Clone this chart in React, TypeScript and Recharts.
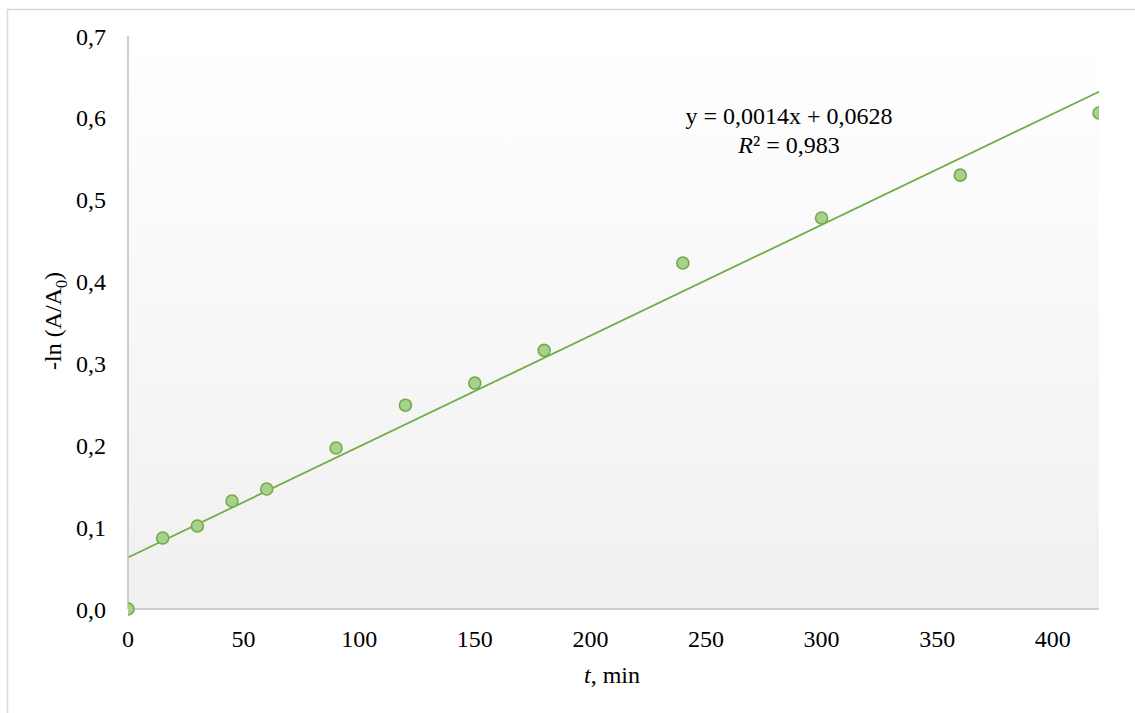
import React from 'react';
import {
  ScatterChart, Scatter, XAxis, YAxis, ReferenceLine, Customized, usePlotArea,
} from 'recharts';

const timeMin = [0, 15, 30, 45, 60, 90, 120, 150, 180, 240, 300, 360, 420];
const lnValues = [0.0, 0.0867, 0.1014, 0.132, 0.1466, 0.1967, 0.249, 0.276, 0.316, 0.4227, 0.4776, 0.530, 0.606];
const xTicks = [0, 50, 100, 150, 200, 250, 300, 350, 400];
const yTicks = [0, 0.1, 0.2, 0.3, 0.4, 0.5, 0.6, 0.7];
const equationText = 'y = 0,0014x + 0,0628';
const r2Value = '0,983';

const data = timeMin.map((t, i) => ({ t, v: lnValues[i] }));

// least-squares trendline (as in the spreadsheet's linear trendline)
const n = timeMin.length;
const mx = timeMin.reduce((a, b) => a + b, 0) / n;
const my = lnValues.reduce((a, b) => a + b, 0) / n;
let sxy = 0;
let sxx = 0;
for (let i = 0; i < n; i++) {
  sxy += (timeMin[i] - mx) * (lnValues[i] - my);
  sxx += (timeMin[i] - mx) ** 2;
}
const slope = sxy / sxx;
const intercept = my - slope * mx;
const xMin = 0;
const xMax = 420;

const FONT = '"Liberation Serif", "Times New Roman", serif';
const GREEN = '#70ad47';
const DOT_FILL = '#a9d18e';

const fmt = (v: number) => v.toFixed(1).replace('.', ',');

const Dot = (props: any) => (
  <circle cx={props.cx} cy={props.cy} r={6} fill={DOT_FILL} stroke={GREEN} strokeWidth={1.6} />
);

const Annotations = () => {
  let area: any = null;
  try {
    area = usePlotArea ? usePlotArea() : null;
  } catch (e) {
    area = null;
  }
  const pa = area || { x: 128, y: 36, width: 971, height: 573 };
  return (
    <g fontFamily={FONT} fontSize={24} fill="#000">
      <defs>
        <linearGradient id="plotBg" x1="0" y1="0" x2="0" y2="1">
          <stop offset="0%" stopColor="#ffffff" />
          <stop offset="100%" stopColor="#f0f0f0" />
        </linearGradient>
      </defs>
      <rect x={pa.x} y={pa.y} width={pa.width} height={pa.height} fill="url(#plotBg)" />
      <rect x={7.5} y={9.5} width={1200} height={800} fill="none" stroke="#d9d9d9" strokeWidth={1.5} />
      <text x={789} y={124} textAnchor="middle">{equationText}</text>
      <text x={789} y={153} textAnchor="middle">
        <tspan fontStyle="italic">R</tspan>
        <tspan>{'² = ' + r2Value}</tspan>
      </text>
      <text x={61} y={321} textAnchor="middle" transform="rotate(-90, 61, 321)">
        <tspan>-ln (A/A</tspan>
        <tspan dy={6} fontSize={16}>0</tspan>
        <tspan dy={-6}>)</tspan>
      </text>
      <text x={612} y={683} textAnchor="middle">
        <tspan fontStyle="italic">t</tspan>
        <tspan>, min</tspan>
      </text>
    </g>
  );
};

export default function App() {
  return (
    <div style={{ position: 'absolute', left: 0, top: 0, width: 1135, height: 713, background: '#fff' }}>
      <ScatterChart
        width={1135}
        height={713}
        margin={{ top: 36, right: 36, bottom: 64, left: 28 }}
      >
        <Customized component={Annotations} />
        <XAxis
          type="number"
          dataKey="t"
          domain={[xMin, xMax]}
          ticks={xTicks}
          allowDataOverflow
          height={40}
          tickLine={false}
          tickSize={0}
          tickMargin={21}
          axisLine={{ stroke: '#bfbfbf', strokeWidth: 1.5 }}
          tick={{ fontFamily: FONT, fontSize: 24, fill: '#000' }}
        />
        <YAxis
          type="number"
          dataKey="v"
          domain={[0, 0.7]}
          ticks={yTicks}
          width={100}
          tickLine={false}
          tickSize={0}
          tickMargin={22}
          tickFormatter={fmt}
          axisLine={{ stroke: '#bfbfbf', strokeWidth: 1.5 }}
          tick={{ fontFamily: FONT, fontSize: 24, fill: '#000' }}
        />
        <ReferenceLine
          segment={[
            { x: xMin, y: intercept },
            { x: xMax, y: intercept + slope * xMax },
          ]}
          stroke={GREEN}
          strokeWidth={1.8}
        />
        <Scatter data={data} isAnimationActive={false} shape={<Dot />} />
      </ScatterChart>
    </div>
  );
}
